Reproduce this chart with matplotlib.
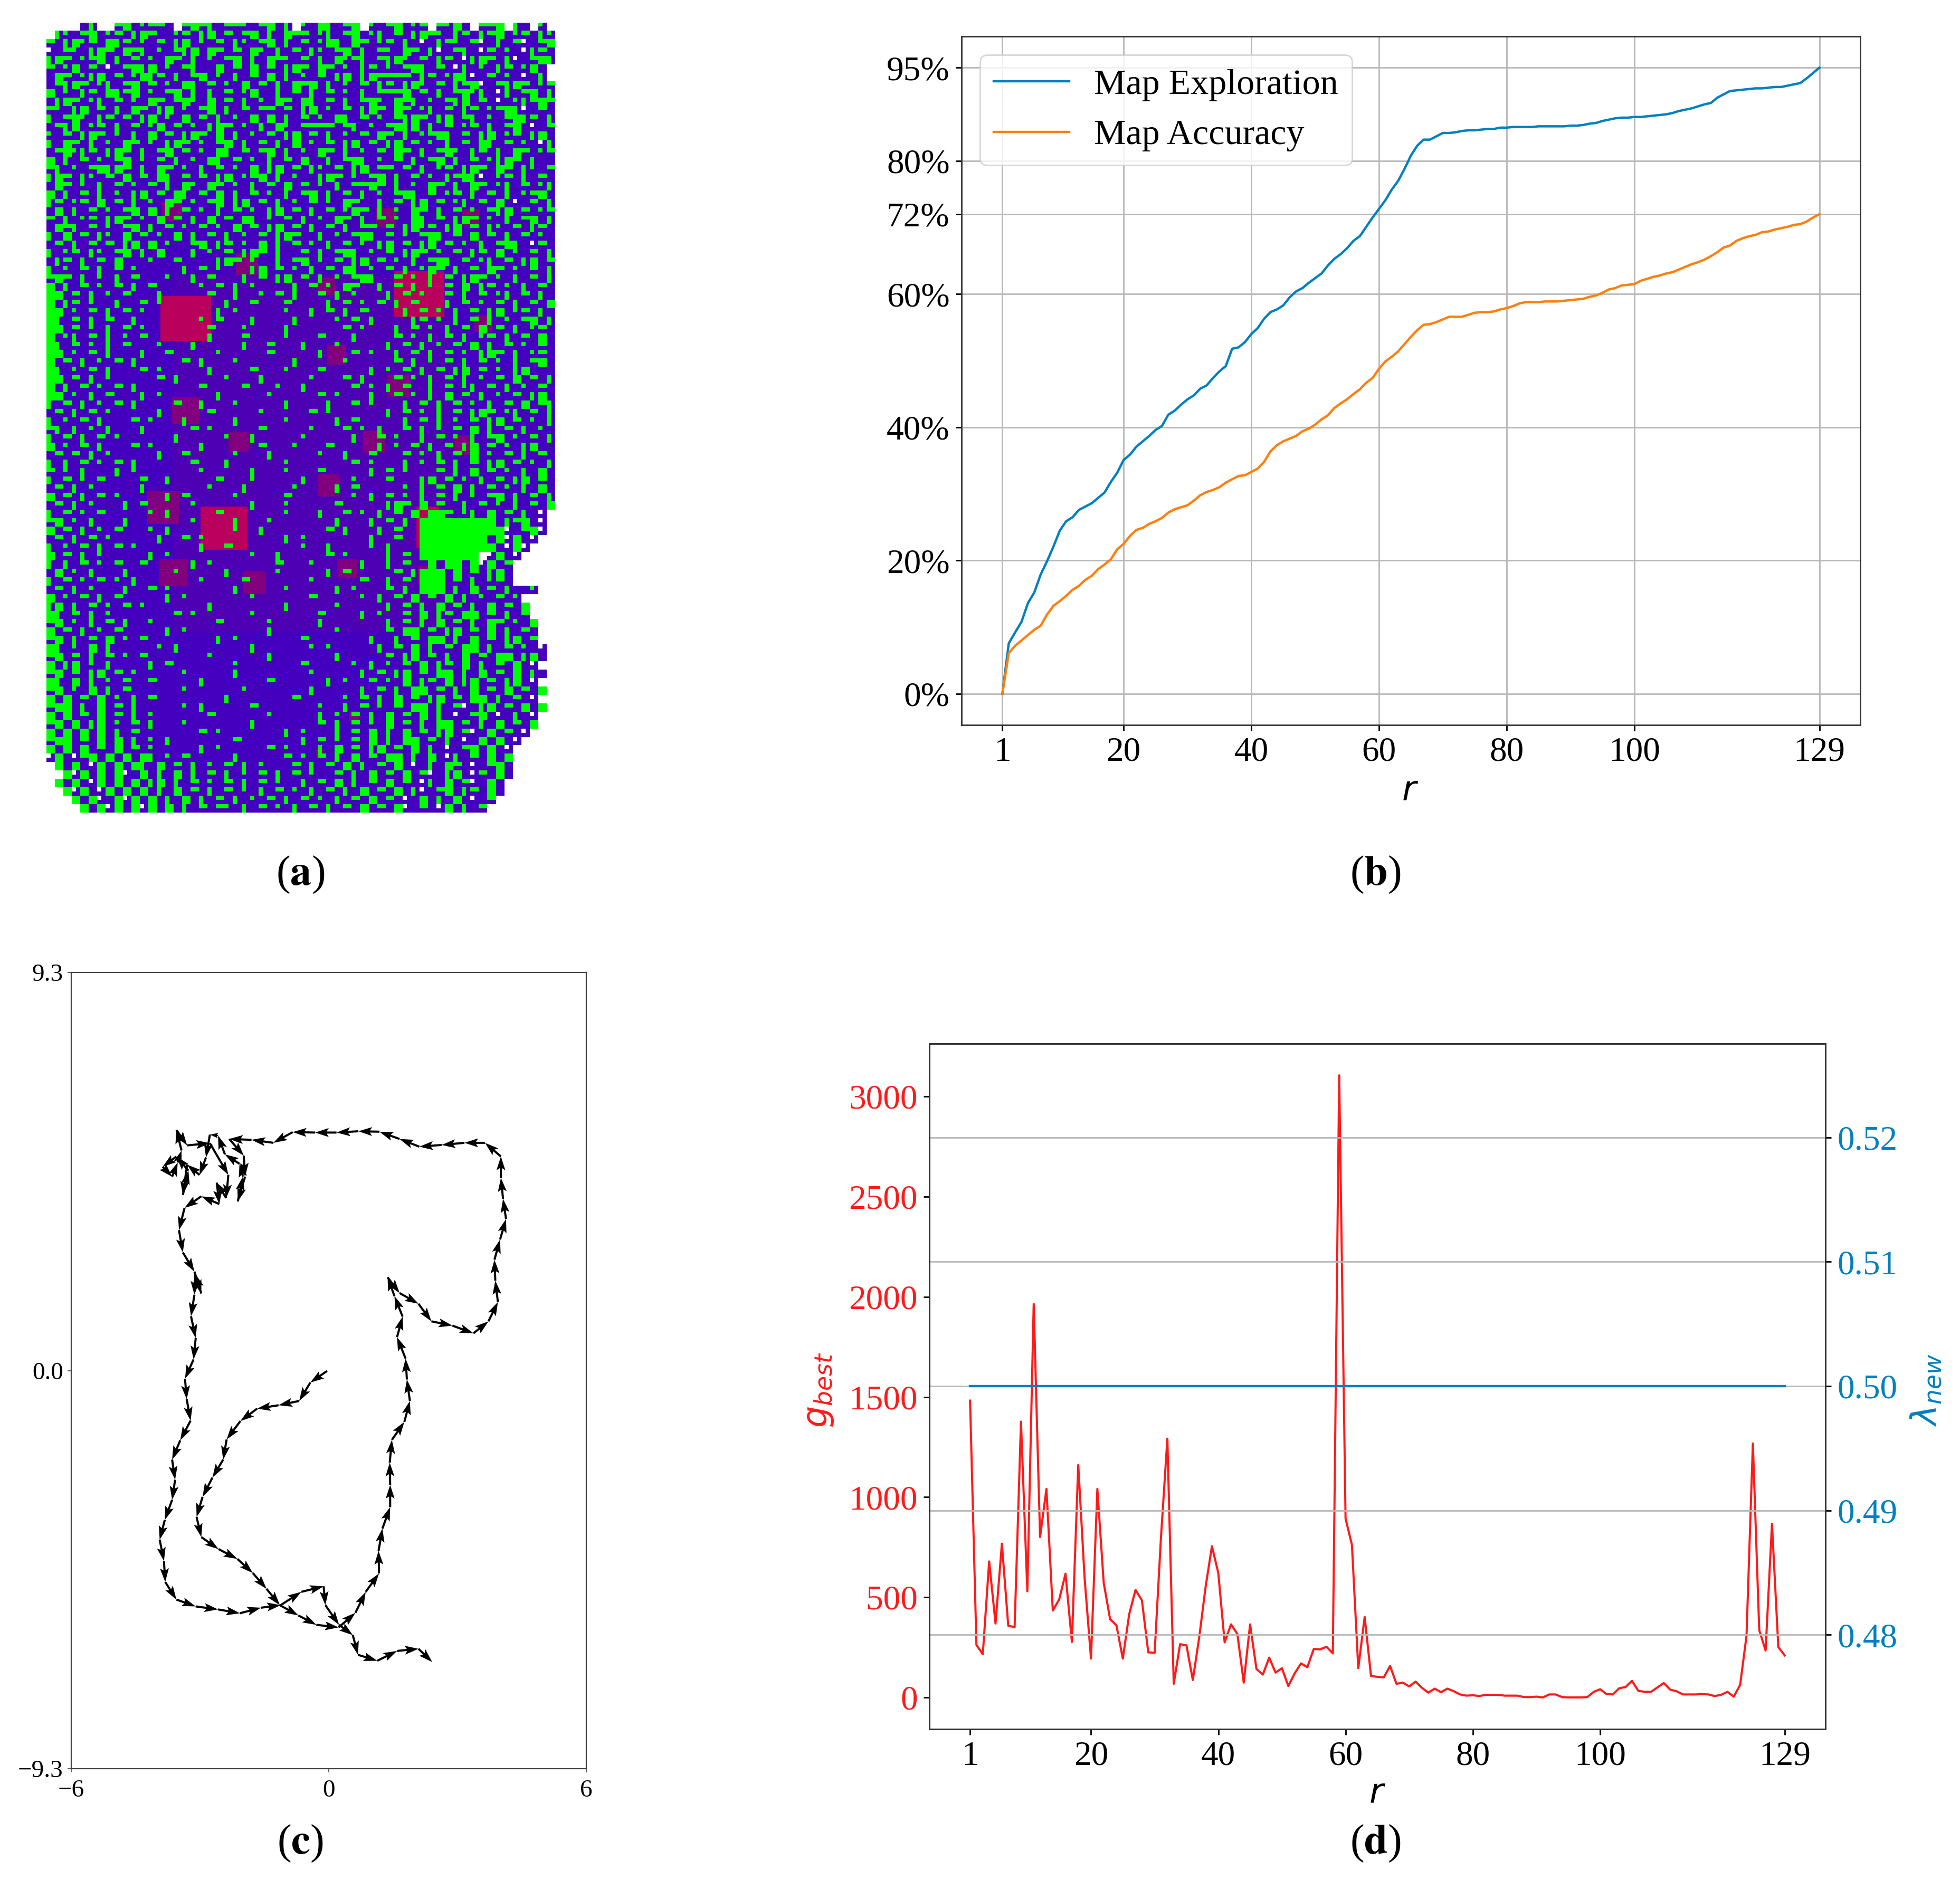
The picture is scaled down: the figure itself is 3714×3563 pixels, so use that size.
import numpy as np
import matplotlib
matplotlib.use('Agg')
import matplotlib.pyplot as plt
from matplotlib.patches import Rectangle
from matplotlib.colors import to_rgba

plt.rcParams['font.family'] = ['Liberation Serif', 'DejaVu Sans']

W, H = 3714, 3563

# (a) occupancy map, read by eye. one char is 2x2 map cells
# . scanned, - top pair green, | left pair green, o one green, g all green, w one white, space unknown
map_rows = [
"    .|  -g.o--. -g-|.--o.-g.| o.g|.-g o.-g.o- -og. --g |. o  ",
" |o.-g.o-.|g-..o-.|g.-.-g.|.g--.o|.-g.o|.-.|g-o.|-.|-g.o-.|o.",
"-.|go-.g|-.o.-.|g.o.-.|o.-g.|.-.og|.g-.o-.|.w.|-o.-w.|.-w.-g",
"w.-o.|g-.g-|.o.-|g.g-.-.go.|.-.|o.-g.|.-o.g-.|w.-|.w-.o.w|-.",
"|g-.o-g.|.-.o.g-.|.o.-g.|.g-o.-.|.go-|.-|go.-.|-.w|g-.|w.-g|",
"-.og.-.w.-g|g.o.-|..g.-.g.-.|g-.g-.o.|-.o.-g|.-.w|.o.|-.og.",
".g-.o|g.-.og|-.|.-g.o.|.-.g.|.o.-.|g.|g----.|-.og|w.-.o.w.|",
".-|g-.o|.-g.-.o.g|.-.o.g.-.|.g-g.|.o.-.|-.|go.-.|-gw.-|g-.o-",
"g.o.|-.g|-g.o.-g.|.|.-.og..|.-.|.-.o.|.---g.-.|.-go|.w|.-g.|",
".|g-.o|.-.o.g-.-go.g.-.|.o.g-.g|.-.|.-go.g-|.o.-|g.-.w.o|-g-",
"-o.|g.-.|.g-.|g.o.-g.|.-.--.-.|g.o.-.|g-.g-.o|.-.|-.o-g|w.-.",
"|.-go.|-.-.|g.o.g.-.|.o.g.g.|.-.o.g|.-.o.-|g-.|g.-|.o.-g|-.|",
".-|g.o-.|.-.og.-.o.|g-.o.|.go.----.-|.o.-g|g.|.-.o-.|.-g.w.-",
"o.-.|g-.o.|.g.-.|g-.g.|.o.-.|g.-.|.o.-.g-.|.o-g|.-.|g.o-.|g.",
"|.g-.|.o.g-.o.|g-.o.-g.|.-.|.g.o.-.|g.-.|g.-.o.|.-.g|.-.o.w|",
".-go|-.|g-.|.-g.-.o.g|.-.-g.|.o.g-.|.o.-.g-.|.-go.|-.|.g-.o-",
"g.|.-.o.-g.o.-.|.o.g|.-.o.|.-.g..|.-g|.o.-.|.-g.|.-.o|g-.|..",
"-|.o.-g|g-.|.g-.o.|.-.o.g.|g.-.|o.-.|g.--.-.|.o-.|g-.g-.|o.-",
"|g-.|o.-.g.-.g|.-.-.|g.o-g.|.o..|g-.o.-g.|.-.o.|-g|w.o-.|.-.",
".g-.o.|.-.o.-.|.go.g-.o.|.-.g.-.o.|.--g-.|.o.g-.|.g-.o|.-.o|",
"g.|.-.|.o.|g.-.g|.-.g.|.-.o.|.-g.|.-.|.o.-g|.-.o-.|.-.|.o-g.",
"|-.o-.g.-.|.o.g-.o.-g.|g.-.|.o.-.o.g-..|.-.|g.-.o|.-.g.w.-.|",
".g.|.-.o.-g.g.|.-.o.|.-.o.|g.-.|.-.og-.|.o.g-.|.-.o.-|g.-.o-",
"-.|.o-.|g-.o.g.-.|.g.-.g|.o.-.|.o.g-.|.-.o.g|.-.|g-.o.|.-g.|",
".g-|.-.o.-g.|.-.o.-.o.g.-.|g.-.|.-.|.--.-.|go-.|g.-.|o.-.|-.",
"|.g.-.|o.g.-.o.g.|.-.|.o.-.|g-..|.o.-g|.-.o.-g|.-.g.-.|.-.o.",
".-.|.-.-.|g.g.o..-g.|-.o.g.|.-.o.|.-.o.|g.-.|g.-.o.|.-g|.w-.",
"|.o-.|o.-g.|.g...|.o.-.|g-.|..-.|.-g|.o.-.|g-.o.-.|-.g.o.-.|",
".|-.|.-.g...o..-....|g-.o..|.-g.o.-.|g.-.o.|.-g|.-.o|.-.|g.-",
"|.o.-.|.-.o.....|.-.o...|g.-.o.|.-.g|.o.-.|.og-.|.-.g-.o.-.|",
"-g-.|.o.|.-...o..|.-...|.-.|g.-.|.o.-g|..-.o.|.-.|g-.o.|.-.|",
"g.|.-.o.-.|.-.....o.-.|.o....|.-.o.g-..|.-.|.o.-.g.|-.o.|.-.",
"gg.-.|.o.-...|.....-..|..o.-.|..-.|.o...|.-.o..-.|.-.o|.-.|.",
"g.|-.o..|..-.o.......|..-...-....|.-.o.-.|.-...|.-.o.-.|.-.g",
"gg.o.-.|.-.o........|.o.....o..|.-.|.-....|.-.o.|.-.|g.o-.|.",
"g|.-.|.-..|.......o.-...|....|....o.-.|....|-.o.|.-.|.o.-g.|",
"gg.-.o.|.-.o.......-...o....|......-.o...|.-.o.|.-.g.-.|.o-.",
"g.o|.-.|.o.-.......|...-....o...-...|....-.o.|.-.|.o-.|.-.g.",
"g|.-.o.|.-...o...|.....|..-...|...o.....|.-.|.o.-.g.|.-.o.-.",
"gg.o.-.|...|..-.....o.....-.....|...-.o..|.-.|.-.o.|g-.|.o-.",
"g.-.|.o.-.|.....-.|...o......|.....o.....-.|.o.-.|.-.o.|.-g.",
"g|.o.-.|...-.o.....|....-...o...-.....|.o.-.|.-.|g.-.o.|g...",
"gg.-.|.o.....-.|.....o...|.....o...-.|...-.o.|.-.|.o.-.g.-.|",
"g.|.-.o.-.|.......-....-...o..|.....-.o.|.-..|.-.o|.-.|.o.-.",
"gg.o.|.-...|.o......|.....o.....-.o...|..-.o.|.g.-.|.o.-.|g.",
"|.-.|.o.-.|....-..|...o.....|....|..-.o...|.-.|.-.o.|.-.g.-|",
".-.|.-.o.....|.....-.....o.....-.o......|.-.o.|.-.|g-.o|.-.|",
"|.o.-.|...-.o...|.....|.....o.....|.-.....|.-.|.o.-.|g.-.o.|",
"-|.|.o.|...|.....-.o.....-.....o...-.o.|..-.|.o.-.g.|.-.|.o.",
"|.-.|.-.o......|.....o..|.....o.....|..-.o..|.-.o.|.-g.o.-.|",
"g.o.-.|...-.o.....|......-...o...-.....|.o.-.|.-.|g.-.o.|g..",
".-.-.|.o.....|..-.....o...|.....o..|..-...-.o.|.-.g.o.-.|.-.",
"|.|.-.o.-.|......-...|......o.......-.o...|.o.-.|.-.|g.-.o.|",
"-.o.|...|.o.......o.....|...o...-.....|.-.o...-.|.g.-.o.|.g.",
"|.-.o.-....-..|.....-...o.....|.....o...-...|g.-.o.|.-.|g.-.",
".-.|.o.....|.......o...|.....o....|.-.....o.|.-.g.|.-.o.|.g.",
"g.-.|.-.o.....|.-.....o.....-.......o.|.-.o.|.-.|.o.-g.|.-.|",
".-.|.o...|.-.....o......|...o.....-.....|g-.g.-..|.-.o.|.-.g",
"|.-.o.-.....o.|.....-.......o...|..-.o.|.-.g.gg-.o|.g.-.|.w ",
"-g.o.|...|.......o....|...o.......|...|.-.|.ggggggggg.|-g.w ",
"g.-.|.o.-...o.|.......o..|.......-.|...|.-..ggggggggggw.-gw ",
".-.|.-.o.....|..-.o.........|.o.......|..-..gggggggg.gwg.w  ",
"|.o.-.|.-.o.......|..-........o..|....o.|...ggggggggg.wgw   ",
"g.-.|.o.....|.o.........o..|.....-.o....|.-.ggggggg wg.w    ",
"|.|.-.o.-..-.....|.o.......-...o.....|..|.-..g.gg.gwg.-     ",
".g.o.|...|.....o.....|.....o.....|.-.....-.|ggg.g.-.|g.     ",
"|.-.o.-.o.|.......o....-.......o.....-..|.-.ggg.-.|.o-.     ",
".-.|.o...|..-.o.......|.....o.....|.o...-.|.ggg.|.g.-.|..o  ",
"g.o.-.|.-.....|.o.......o......-.....o.|.-.g.-.g.|.o.-.o    ",
"|g.|.-.o.-.o.......|........|.....o.....|.-.|.g.-.|.g.-.g   ",
"g|.-.|.o.......-.o......o.......-....|.o..-.g.|-.gg.-.|.-   ",
"-g.o.|.-.|..o.......-.....o.....|.......|.-.|.g.-.|.g-.o.g  ",
"g.-.|.o.-.....|.o.........|.......o.....-.gg.-.|g.-.g.|.-.  ",
"-g.|.-.g.o.-........|.o.......-.......|..|.-.gg.|.g.-.|g.-  ",
"g|.o.g.|.....o.|........|......o.o.....|.-.g.|.-.gg.|.-.o.w ",
"-g.-.|.-.o.-.......o......|.......|.....-.|g.-.|.g.-.gg.|g. ",
"g.|g.o.|....|.-.......o.......-.....o.|.o.-.g.|-.g.|.-.g.w  ",
"-g.-.|g.-.o.....o.....|........o.....|.-.|g.-.gg.|.g.-.g.|. ",
"g|.g.|.o.-..-.....|.......-......|.o..-.o.g.|-.g.|g.-.|g.w  ",
"-g.o.g.|.-......o......o.......|.....|.-.|.gg.-.|.g.-.g.-.g ",
"g.g.-.g.o.|.-........|.......-.....o.-.|.g.-.|g.-.gg.|.-.w  ",
"-gg.|.g.-.|.....o.|.....-.......o..|.-.o.-.gg.|.-w.|g.-.g.g ",
"g.g.-.g.-.|.o......-......o.....|.o.-.|.g.-.g.|.w.-g.w.|.w  ",
"-g.g.|g.o.-.|...o.......|.......-.|.-.o.g.-.|.gg.-.|.g.-.g  ",
"g.g.g.g.|.-.......-.o.......|.o...|.-.g.|.g.-.|g.-w.g.-.w   ",
"-gg.-.g.g.|.o.|.......-.......|.-.o.-.g.|.gg.-.|.w.g.g.w    ",
"g.g.g.-.g.-.o.....|.o.....-.o...|.g.-.|g.-.g.|.w.-g.g.w     ",
"wg.w-g.g.g.g|.o.-.....|.....-.o.-.|.g.-.gg.|.g.w|.-.g.g     ",
" g.g.wg.g.g|.g.-.|.o.-.|.o...-.|.-.g.|.-.g.w.|.g-.w.-g.     ",
"  gwg.g.gw.g.|.g.|.-.|.o.-.|.-.o..-.|.g.-.g.-w.|g.w-.g.     ",
" g.g.wg.g.g.|g.|.-.o.-.|.-.o..|.-.g.|.-.g.-.w|.g.-w.g.      ",
"  gwg.wg.g.g.|.g.-.|.-.o.|.-.o.|.-.|.g.-.g.|w.-g.|-.g.      ",
"   g.gw.gwg.g.|.g.|.-.|.o.-.|.-.o.|.-.g.-.w.g.|.g.w.-       ",
"    g.gwg.gwg.g.|.-.-o.|.-.o.|.-.|.-.g.-.gw.-.wg.|.-        ",
]

# (a) red landing marks, in map cells
hot_col = [26.9, 82.0, 36.4, 87.3]
hot_row = [65.1, 59.2, 115.1, 115.1]
hot_w = [11.9, 11.8, 11.0, 5.3]
hot_h = [10.6, 10.9, 10.4, 9.8]
warm_col = [29.6, 47.3, 66.0, 80.2, 100.0, 103.0, 68.4, 82.9, 32.8, 45.3, 77.2, 98.6, 66.6, 27.5, 29.9, 49.1, 71.0, 89.7, 72.5, 64.5]
warm_row = [44.9, 57.4, 62.7, 46.4, 46.4, 71.6, 79.0, 86.4, 92.3, 99.7, 99.7, 100.6, 110.1, 115.4, 130.8, 133.2, 129.9, 131.4, 164.9, 173.8]
warm_size = [4.7, 5.3, 4.1, 4.7, 4.1, 4.1, 4.7, 5.3, 6.5, 4.7, 5.3, 4.7, 5.3, 7.7, 6.5, 5.3, 4.7, 4.1, 2.4, 1.8]

# (b)
rounds = list(range(1, 130))
exploration = [0, 7.56, 9.2, 10.8, 13.6, 15.2, 17.9, 19.9, 22.1, 24.5, 25.9, 26.5, 27.6, 28.1, 28.6, 29.4, 30.2, 31.8, 33.2, 35.1,
               35.9, 37.1, 37.9, 38.7, 39.6, 40.2, 41.9, 42.5, 43.4, 44.2, 44.8, 45.8, 46.3, 47.4, 48.4, 49.2, 51.8, 52.0, 52.8, 54.0,
               54.9, 56.3, 57.3, 57.7, 58.3, 59.5, 60.4, 60.9, 61.7, 62.4, 63.1, 64.3, 65.3, 66.0, 66.9, 68.0, 68.7, 70.1, 71.5, 72.8,
               74.1, 75.7, 77.0, 78.8, 80.8, 82.3, 83.2, 83.2, 83.7, 84.2, 84.2, 84.3, 84.5, 84.6, 84.6, 84.7, 84.8, 84.8, 85.0, 85.0,
               85.1, 85.1, 85.1, 85.1, 85.2, 85.2, 85.2, 85.2, 85.2, 85.3, 85.3, 85.4, 85.6, 85.7, 86.0, 86.2, 86.4, 86.5, 86.5, 86.6,
               86.6, 86.7, 86.8, 86.9, 87.0, 87.2, 87.5, 87.7, 87.9, 88.2, 88.5, 88.7, 89.5, 90.0, 90.5, 90.6, 90.7, 90.8, 90.9, 90.9,
               91.0, 91.1, 91.1, 91.3, 91.5, 91.7, 92.4, 93.2, 94.0]
accuracy = [0, 6.1, 7.2, 8.0, 8.8, 9.6, 10.2, 11.9, 13.2, 13.9, 14.7, 15.6, 16.2, 17.1, 17.7, 18.7, 19.4, 20.2, 21.7, 22.5,
            23.7, 24.6, 24.9, 25.5, 25.9, 26.4, 27.2, 27.7, 28.0, 28.3, 29.0, 29.8, 30.3, 30.6, 31.0, 31.7, 32.2, 32.7, 32.8, 33.3,
            33.8, 34.8, 36.4, 37.3, 37.9, 38.3, 38.7, 39.4, 39.8, 40.4, 41.2, 41.8, 42.9, 43.6, 44.2, 45.0, 45.7, 46.7, 47.4, 48.8,
            49.9, 50.6, 51.4, 52.5, 53.6, 54.6, 55.4, 55.5, 55.8, 56.2, 56.6, 56.6, 56.6, 56.9, 57.2, 57.3, 57.3, 57.4, 57.7, 57.9,
            58.2, 58.6, 58.8, 58.8, 58.8, 58.9, 58.9, 58.9, 59.0, 59.1, 59.2, 59.3, 59.6, 59.8, 60.2, 60.7, 60.9, 61.3, 61.4, 61.5,
            62.0, 62.3, 62.6, 62.8, 63.1, 63.3, 63.7, 64.1, 64.5, 64.8, 65.2, 65.7, 66.3, 67.0, 67.3, 68.0, 68.4, 68.7, 68.9, 69.3,
            69.4, 69.7, 69.9, 70.1, 70.4, 70.5, 70.9, 71.5, 72.0]
round_ticks = [1, 20, 40, 60, 80, 100, 129]
pct_ticks = [0, 20, 40, 60, 72, 80, 94]
pct_labels = ['0%', '20%', '40%', '60%', '72%', '80%', '95%']

# (c) robot path
path_x = [-0.04, -0.43, -0.69, -1.17, -1.67, -2.06, -2.38, -2.46, -2.71, -2.94, -3.08, -2.97, -2.57, -2.13, -1.77, -1.45, -1.14, -0.71, -0.29, 0.23,
          0.62, 0.86, 1.17, 1.16, 1.25, 1.43, 1.43, 1.42, 1.47, 1.76, 1.89, 1.82, 1.79, 1.59, 1.72, 1.53, 1.37, 1.65, 2.09, 2.39,
          2.88, 3.37, 3.72, 3.94, 3.88, 3.86, 3.99, 4.13, 4.06, 4.01, 4.01, 3.64, 3.16, 2.63, 2.11, 1.65, 1.18, 0.69, 0.18, -0.32,
          -0.84, -1.29, -1.80, -2.32, -1.98, -1.95, -2.12, -2.00, -2.08, -2.42, -2.58, -2.77, -2.86, -3.01, -3.30, -3.40, -3.27, -3.55, -3.87, -3.65,
          -3.52, -3.43, -3.55, -3.30, -2.77, -2.34, -2.39, -2.61, -2.55, -2.97, -3.36, -3.49, -3.40, -3.13, -2.97, -3.11, -3.13, -3.21, -3.10, -3.15,
          -3.35, -3.31, -3.22, -3.46, -3.65, -3.58, -3.65, -3.82, -3.94, -3.84, -3.81, -3.55, -3.10, -2.58, -2.07, -1.58, -1.12, -0.64, -0.12, -0.08,
          0.24, 0.56, 0.68, 1.13, 1.59, 2.09, 2.41]
path_y = [-0.01, -0.28, -0.71, -0.81, -0.89, -1.18, -1.61, -2.08, -2.50, -2.95, -3.42, -3.89, -4.17, -4.40, -4.73, -5.10, -5.48, -5.72, -5.94, -6.00,
          -5.66, -5.17, -4.74, -4.21, -3.69, -3.19, -2.67, -2.15, -1.62, -1.20, -0.71, -0.21, 0.28, 0.78, 1.26, 1.74, 2.18, 1.81, 1.56, 1.15,
          1.05, 0.87, 1.15, 1.60, 2.10, 2.59, 3.06, 3.54, 4.01, 4.50, 5.00, 5.32, 5.32, 5.27, 5.23, 5.41, 5.58, 5.59, 5.56, 5.56,
          5.57, 5.32, 5.39, 5.41, 5.02, 4.53, 3.95, 4.53, 4.83, 5.05, 5.49, 5.51, 4.98, 4.57, 4.81, 4.10, 4.67, 5.00, 4.76, 4.53,
          4.86, 5.14, 5.62, 5.26, 5.31, 4.57, 4.03, 4.39, 3.89, 4.07, 3.80, 3.28, 2.76, 2.31, 1.80, 2.26, 1.77, 1.27, 0.76, 0.26,
          -0.19, -0.67, -1.17, -1.63, -2.08, -2.55, -3.02, -3.49, -3.95, -4.45, -4.94, -5.35, -5.51, -5.58, -5.67, -5.54, -5.48, -5.17, -5.04, -5.48,
          -5.94, -6.18, -6.64, -6.78, -6.55, -6.50, -6.81]

# (d)
g_best = [1482, 262, 216, 679, 369, 768, 358, 351, 1377, 530, 1965, 801, 1041, 434, 489, 618, 277, 1161, 594, 194,
          1041, 572, 391, 360, 194, 415, 537, 485, 225, 223, 801, 1292, 68, 266, 260, 87, 299, 550, 755, 622,
          275, 365, 317, 74, 365, 142, 114, 199, 124, 146, 57, 120, 170, 151, 242, 240, 253, 220, 3106, 893,
          762, 146, 402, 107, 103, 100, 157, 68, 74, 55, 79, 48, 24, 44, 26, 44, 31, 15, 9, 11,
          7, 13, 13, 13, 9, 9, 9, 2, 2, 4, 0, 15, 15, 2, 0, 0, 0, 2, 28, 41,
          17, 15, 46, 52, 83, 33, 28, 28, 50, 72, 39, 31, 15, 15, 15, 17, 15, 7, 13, 28,
          4, 63, 308, 1268, 336, 234, 867, 251, 210]
lambda_new = [0.5] * 129
g_ticks = [0, 500, 1000, 1500, 2000, 2500, 3000]
lambda_ticks = [0.48, 0.49, 0.50, 0.51, 0.52]

BLUE = '#0080c0'
ORANGE = '#ff7f0e'
RED = '#ff1a1a'
TXT = 47


def place(left, top, right, bottom):
    return fig.add_axes([left / W, 1 - bottom / H, (right - left) / W, (bottom - top) / H])


def style_box(ax, lw=2.0):
    for s in ax.spines.values():
        s.set_linewidth(lw)
        s.set_color('#333333')
    ax.tick_params(width=2, length=8, labelsize=TXT, pad=8)


fig = plt.figure(figsize=(W / 100, H / 100), dpi=100)

# panel a
ax = place(88, 43, 1052, 1540)
ax.axis('off')
cell_cols = 60
n_rows, n_cols = 2 * len(map_rows), 2 * cell_cols
base = np.zeros((n_rows, n_cols, 4))
over = np.zeros((n_rows, n_cols, 4))
green = to_rgba('#00ff00')
for i, row in enumerate(map_rows):
    for j, ch in enumerate(row.ljust(cell_cols)[:cell_cols]):
        a, b = 2 * i, 2 * j
        if ch != ' ':
            base[a:a + 2, b:b + 2] = to_rgba('#4400be')
        if ch == 'g':
            over[a:a + 2, b:b + 2] = green
        elif ch == '-':
            over[a, b:b + 2] = green
        elif ch == '|':
            over[a:a + 2, b] = green
        elif ch == 'o':
            over[a, b] = green
        elif ch == 'w':
            over[a, b] = to_rgba('white')
ext = (0, n_cols, n_rows, 0)
ax.imshow(base, extent=ext, interpolation='nearest', aspect='auto', zorder=1)
ax.add_patch(Rectangle((30, 60), 65, 85, color='#5200b0', alpha=0.7, lw=0, zorder=1.5))
for c, r, s in zip(warm_col, warm_row, warm_size):
    ax.add_patch(Rectangle((c - s / 2, r - s / 2), s, s, color='#82007e', lw=0, zorder=2))
for c, r, w, h in zip(hot_col, hot_row, hot_w, hot_h):
    ax.add_patch(Rectangle((c, r), w, h, color='#b8005c', lw=0, zorder=2.5))
ax.imshow(over, extent=ext, interpolation='nearest', aspect='auto', zorder=3)
ax.set_xlim(0, n_cols)
ax.set_ylim(n_rows, 0)

# panel b
ax = place(1822, 69, 3525, 1374)
ax.plot(rounds, exploration, color=BLUE, lw=3.2, label='Map Exploration', zorder=3)
ax.plot(rounds, accuracy, color=ORANGE, lw=3.2, label='Map Accuracy', zorder=3)
ax.set_xlim(-5.4, 135.4)
ax.set_ylim(-4.7, 98.7)
ax.set_xticks(round_ticks)
ax.set_yticks(pct_ticks)
ax.set_yticklabels(pct_labels)
ax.grid(True, color='#b8b8b8', lw=2.0)
ax.set_axisbelow(True)
style_box(ax)
ax.set_xlabel('$r$', fontsize=TXT)
ax.xaxis.set_label_coords(0.499, -0.074)
leg = ax.legend(loc='upper left', bbox_to_anchor=(0.0206, 0.973), borderaxespad=0, fontsize=49,
                handlelength=2.1, labelspacing=0.5, handletextpad=0.7, borderpad=0.38)
leg.get_frame().set_linewidth(2)

# panel c
ax = place(135, 1843, 1111, 3352)
px = np.array(path_x)
py = np.array(path_y)
ax.quiver(px[:-1], py[:-1], np.diff(px), np.diff(py), angles='xy', scale_units='xy', scale=1,
          units='dots', width=4, headwidth=4.2, headlength=6.5, headaxislength=5.5, color='black', zorder=3)
ax.set_xlim(-6, 6)
ax.set_ylim(-9.3, 9.3)
ax.set_xticks([-6, 0, 6])
ax.set_xticklabels(['\u22126', '0', '6'])
ax.set_yticks([-9.3, 0, 9.3])
ax.set_yticklabels(['\u22129.3', '0.0', '9.3'])
for s in ax.spines.values():
    s.set_linewidth(1.6)
    s.set_color('#444444')
ax.tick_params(width=1.2, length=5, labelsize=34, color='#444444')
ax.tick_params(axis='x', pad=10)
ax.tick_params(axis='y', pad=6)

# panel d
ax = place(1761, 1978, 3459, 3277)
ax.plot(rounds, g_best, color=RED, lw=2.9, zorder=3)
ax.set_xlim(-5.4, 135.4)
ax.set_ylim(-158, 3264)
ax.set_xticks(round_ticks)
ax.set_yticks(g_ticks)
style_box(ax)
ax.tick_params(axis='y', labelcolor=RED)
ax.set_xlabel('$r$', fontsize=TXT)
ax.xaxis.set_label_coords(0.5, -0.072)
ax.set_ylabel('$g_{best}$', fontsize=TXT, color=RED)
ax.yaxis.set_label_coords(-0.105, 0.495)
ax2 = ax.twinx()
ax2.plot(rounds, lambda_new, color=BLUE, lw=3.2, zorder=3)
ax2.set_ylim(0.47242, 0.52754)
ax2.set_yticks(lambda_ticks)
ax2.set_yticklabels(['0.48', '0.49', '0.50', '0.51', '0.52'])
ax2.grid(True, axis='y', color='#b8b8b8', lw=2.0)
ax2.set_axisbelow(True)
style_box(ax2)
ax2.tick_params(axis='y', labelcolor=BLUE)
ax2.set_ylabel('$\\lambda_{new}$', fontsize=TXT, color=BLUE)
ax2.yaxis.set_label_coords(1.094, 0.495)

# captions
for letter, x, y in [('a', 569, 1658), ('b', 2606, 1658), ('c', 569, 3494), ('d', 2606, 3494)]:
    fig.text(x / W, 1 - y / H, '($\\mathbf{%s}$)' % letter, fontsize=58, ha='center', va='center', math_fontfamily='stix')

fig.savefig('out.png', dpi=100)
